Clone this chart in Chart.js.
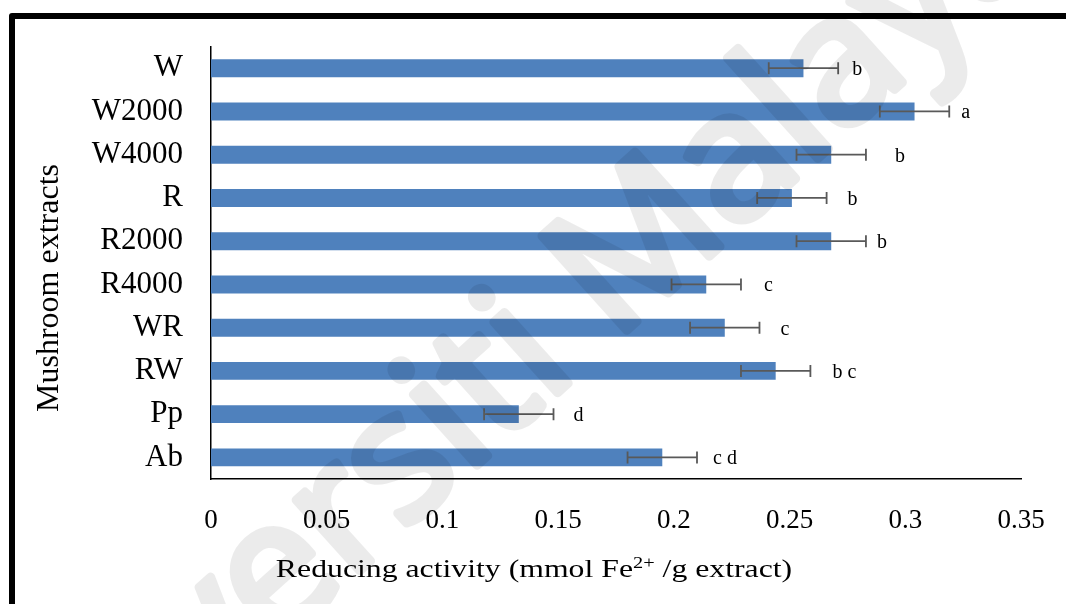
<!DOCTYPE html>
<html>
<head>
<meta charset="utf-8">
<script src="https://cdn.jsdelivr.net/npm/chart.js@4/dist/chart.umd.min.js"></script>
<style>
  html, body { margin: 0; padding: 0; background: #fff; }
  #wrap { width: 1066px; height: 604px; position: relative; }
</style>
</head>
<body>
<div id="wrap"><canvas id="c" width="1066" height="604"></canvas></div>
<script>
// Reducing activity of mushroom extracts (mean ± error), with significance letters
const extracts = ['W', 'W2000', 'W4000', 'R', 'R2000', 'R4000', 'WR', 'RW', 'Pp', 'Ab'];
const reducingActivity = [0.256, 0.304, 0.268, 0.251, 0.268, 0.214, 0.222, 0.244, 0.133, 0.195];
const errorValues = [0.015, 0.015, 0.015, 0.015, 0.015, 0.015, 0.015, 0.015, 0.015, 0.015];
const groupLetters = ['b', 'a', 'b', 'b', 'b', 'c', 'c', 'b c', 'd', 'c d'];
const xTickLabels = ['0', '0.05', '0.1', '0.15', '0.2', '0.25', '0.3', '0.35'];

const SERIF = '"Liberation Serif", "Times New Roman", serif';

// white page with a heavy black frame along the top and left
const framePlugin = {
  id: 'frame',
  beforeDraw(chart) {
    const ctx = chart.ctx;
    ctx.save();
    ctx.fillStyle = '#fff';
    ctx.fillRect(0, 0, chart.width, chart.height);
    ctx.strokeStyle = '#000';
    ctx.lineWidth = 6;
    ctx.lineJoin = 'round';
    ctx.beginPath();
    ctx.moveTo(12, chart.height + 10);
    ctx.lineTo(12, 16);
    ctx.lineTo(chart.width + 10, 16);
    ctx.stroke();
    ctx.restore();
  }
};

// error bars and letter annotations beside each bar
const errorPlugin = {
  id: 'errorLetters',
  afterDatasetsDraw(chart, args, opts) {
    const ctx = chart.ctx;
    const xs = chart.scales.x;
    const meta = chart.getDatasetMeta(0);
    ctx.save();
    meta.data.forEach((bar, i) => {
      const v = reducingActivity[i], e = errorValues[i];
      const x0 = xs.getPixelForValue(v - e);
      const x1 = xs.getPixelForValue(v + e);
      const y = bar.y;
      ctx.strokeStyle = '#595959';
      ctx.lineWidth = 1.8;
      ctx.beginPath();
      ctx.moveTo(x0, y); ctx.lineTo(x1, y);
      ctx.moveTo(x0, y - 6); ctx.lineTo(x0, y + 6);
      ctx.moveTo(x1, y - 6); ctx.lineTo(x1, y + 6);
      ctx.stroke();
      ctx.fillStyle = '#000';
      ctx.font = '20px ' + SERIF;
      ctx.textAlign = 'left';
      ctx.textBaseline = 'alphabetic';
      ctx.fillText(groupLetters[i], x1 + opts.nudge[i], y + 7);
    });
    ctx.restore();
  }
};

// axis titles (the x title carries a superscript)
const titlePlugin = {
  id: 'axisTitles',
  afterDraw(chart) {
    const ctx = chart.ctx;
    ctx.save();
    ctx.fillStyle = '#000';
    ctx.textBaseline = 'alphabetic';
    // x title
    const part1 = 'Reducing activity (mmol Fe';
    const sup = '2+';
    const part2 = ' /g extract)';
    ctx.font = '25px ' + SERIF;
    const w1 = ctx.measureText(part1).width;
    const w3 = ctx.measureText(part2).width;
    ctx.font = '16px ' + SERIF;
    const w2 = ctx.measureText(sup).width;
    const total = w1 + w2 + w3;
    const sx = 1.27;
    const cx = 534;
    ctx.translate(cx - total * sx / 2, 577);
    ctx.scale(sx, 1);
    ctx.font = '25px ' + SERIF;
    ctx.fillText(part1, 0, 0);
    ctx.font = '16px ' + SERIF;
    ctx.fillText(sup, w1, -9);
    ctx.font = '25px ' + SERIF;
    ctx.fillText(part2, w1 + w2, 0);
    ctx.setTransform(1, 0, 0, 1, 0, 0);
    // y title
    ctx.translate(58, 288);
    ctx.rotate(-Math.PI / 2);
    ctx.font = '32px ' + SERIF;
    ctx.textAlign = 'center';
    ctx.fillText('Mushroom extracts', 0, 0);
    ctx.restore();
  }
};

// faint diagonal watermark over the whole page (heavy strokes, composited at low alpha)
const watermarkPlugin = {
  id: 'watermark',
  afterDraw(chart) {
    const off = document.createElement('canvas');
    off.width = chart.width;
    off.height = chart.height;
    const o = off.getContext('2d');
    o.font = '178px "Open Sans", "Liberation Sans", sans-serif';
    const lead = o.measureText('Universiti ').width;
    o.translate(614, 342);
    o.rotate(-42 * Math.PI / 180);
    o.fillStyle = '#000';
    o.strokeStyle = '#000';
    o.lineWidth = 9;
    o.lineJoin = 'round';
    o.textBaseline = 'alphabetic';
    o.textAlign = 'left';
    o.fillText('Universiti Malaya', -lead, 0);
    o.strokeText('Universiti Malaya', -lead, 0);
    const ctx = chart.ctx;
    ctx.save();
    ctx.globalAlpha = 0.075;
    ctx.drawImage(off, 0, 0);
    ctx.restore();
  }
};

new Chart(document.getElementById('c'), {
  type: 'bar',
  data: {
    labels: extracts,
    datasets: [{
      data: reducingActivity,
      backgroundColor: '#4f81bd',
      borderWidth: 0,
      barPercentage: 0.415,
      categoryPercentage: 1
    }]
  },
  options: {
    indexAxis: 'y',
    responsive: false,
    animation: false,
    devicePixelRatio: 1,
    layout: { padding: { top: 46, right: 45, left: 0, bottom: 0 } },
    plugins: {
      legend: { display: false },
      tooltip: { enabled: false },
      errorLetters: { nudge: [14, 12, 29, 21, 11, 23, 21, 22, 20, 16] }
    },
    scales: {
      x: {
        min: 0, max: 0.35,
        grid: { display: false, drawTicks: false },
        border: { display: true, color: '#000', width: 1.5 },
        ticks: {
          stepSize: 0.05,
          padding: 26,
          color: '#000',
          font: { family: SERIF, size: 27 },
          autoSkip: false,
          maxRotation: 0,
          callback: (v, i) => xTickLabels[i]
        },
        afterFit: s => { s.height = 125; s.paddingLeft = 0; s.paddingRight = 0; }
      },
      y: {
        grid: { display: false, drawTicks: false },
        border: { display: true, color: '#000', width: 1.5 },
        ticks: {
          padding: 28,
          color: '#000',
          font: { family: SERIF, size: 31 },
          autoSkip: false
        },
        afterFit: s => { s.width = 211; }
      }
    }
  },
  plugins: [framePlugin, errorPlugin, titlePlugin, watermarkPlugin]
});
</script>
</body>
</html>
